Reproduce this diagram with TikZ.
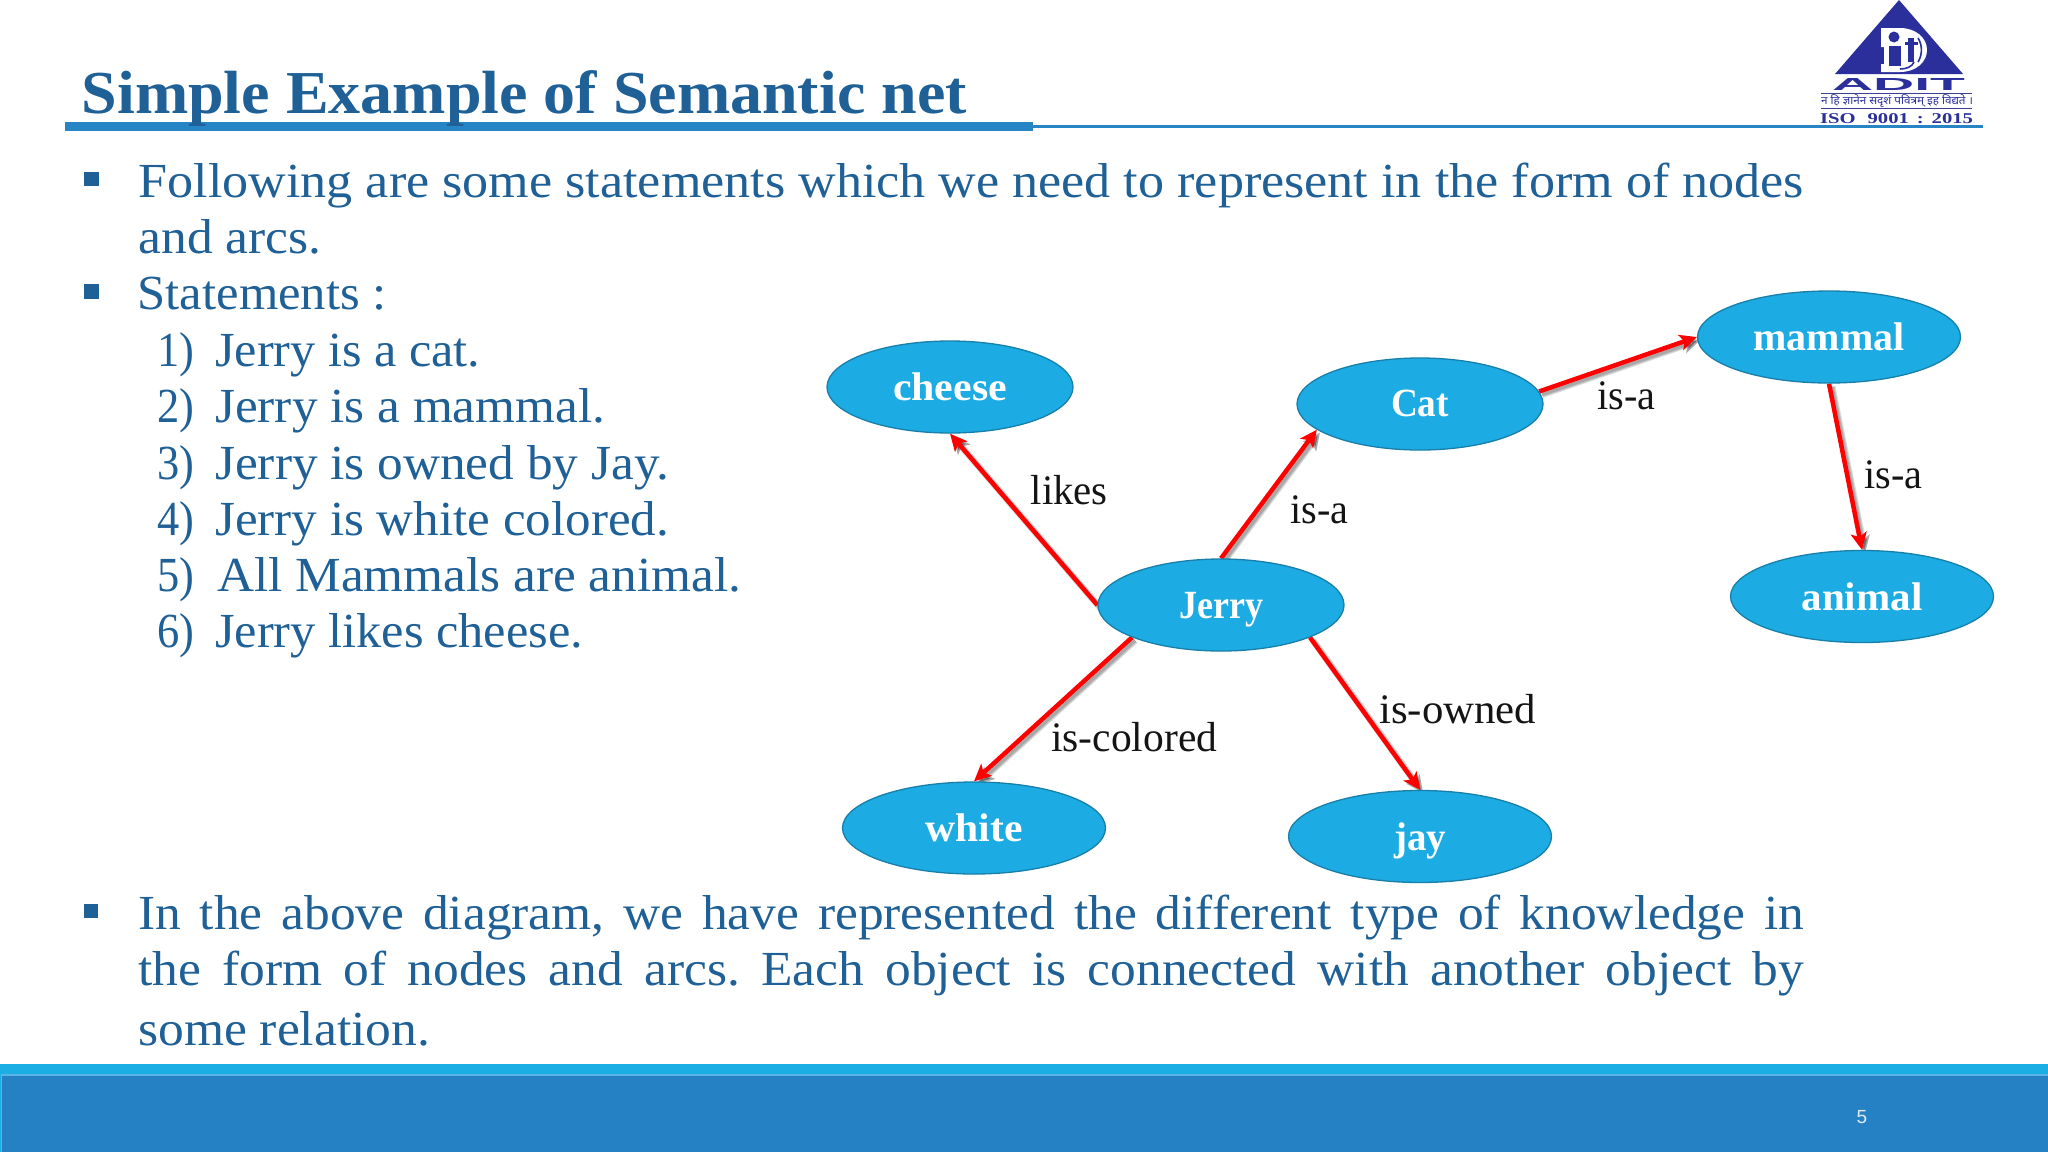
\documentclass[tikz,border=0pt]{standalone}
\usepackage{fontspec}
\usepackage{graphicx}
\usetikzlibrary{shapes.geometric,arrows.meta,backgrounds}
\setmainfont{Liberation Serif}
\setsansfont{Liberation Sans}
\newfontfamily\wideserif[FakeStretch=1.05]{Liberation Serif}
\newfontfamily\devafont[Script=Devanagari]{Noto Sans}
\definecolor{inkblue}{HTML}{1F6096}
\definecolor{rulecol}{HTML}{2784C5}
\definecolor{bandlight}{HTML}{1BAEE5}
\definecolor{banddark}{HTML}{2581C4}
\definecolor{bandedge}{HTML}{5AB4E6}
\definecolor{nodefill}{HTML}{1CACE3}
\definecolor{nodeline}{HTML}{177FA9}
\definecolor{logoblue}{HTML}{2B2F9B}
\newcommand{\fitw}[2]{\resizebox{#1pt}{\height}{#2}}
\frenchspacing
\tikzset{
  bodyline/.style={anchor=base west,inner sep=0pt,text=inkblue,font=\fontsize{49}{52}\selectfont},
  edgelabel/.style={anchor=base west,inner sep=0pt,text=black!92,font=\fontsize{42}{44}\selectfont},
  concept/.style={ellipse,draw=nodeline,line width=1.3pt,fill=nodefill,text=white,inner sep=0pt,
    minimum width=246pt,minimum height=92pt,text height=31pt,text depth=5pt,
    font=\fontsize{40}{42}\selectfont\bfseries},
  wideconcept/.style={concept,minimum width=263pt},
  relation/.style={draw=red,line width=4.5pt,-{Stealth[length=17pt,width=16pt,inset=4pt]}},
  relshadow/.style={draw=black,opacity=.13,line width=#1,-{Stealth[length=17pt,width=16pt,inset=4pt]},
    transform canvas={shift={(3pt,-3pt)}}},
}
\begin{document}
\begin{tikzpicture}[x=1pt,y=-1pt]
\useasboundingbox (0,0) rectangle (2048,1152);
% footer band
\fill[bandlight] (0,1064) rectangle (2048,1152);
\fill[bandedge] (1,1074) rectangle (2048,1152);
\fill[banddark] (2,1076) rectangle (2048,1152);
\node[inner sep=0pt,text=white!85!banddark,font=\sffamily\fontsize{19}{20}\selectfont] (pagenum) at (1862,1117) {5};
% title and rule
\fill[rulecol] (65,122) rectangle (1033,131);
\fill[rulecol] (1033,125) rectangle (1983,128);
\node[anchor=base west,inner sep=0pt,text=inkblue,font=\fontsize{61}{64}\selectfont\bfseries] (title) at (81.5,113)
  {\fitw{885}{Simple Example of Semantic net}};
% bullets
\fill[inkblue] (84,172) rectangle (99,186);
\fill[inkblue] (84,284) rectangle (99,299);
\fill[inkblue] (84,904) rectangle (98,918);
% upper text
\node[bodyline] (l1) at (138.5,197) {\fitw{1665}{Following are some statements which we need to represent in the form of nodes}};
\node[bodyline] (l2) at (138.5,253) {\fitw{183}{and arcs.}};
\node[bodyline] (l3) at (137.5,309.5) {\fitw{249}{Statements :}};
\node[bodyline] (n1) at (157,366) {\fitw{37}{1)}};
\node[bodyline] (n2) at (157,422.5) {\fitw{37}{2)}};
\node[bodyline] (n3) at (157,479) {\fitw{37}{3)}};
\node[bodyline] (n4) at (157,535) {\fitw{37}{4)}};
\node[bodyline] (n5) at (157,591) {\fitw{37}{5)}};
\node[bodyline] (n6) at (157,647.5) {\fitw{37}{6)}};
\node[bodyline] (s1) at (215,366) {\fitw{265}{Jerry is a cat.}};
\node[bodyline] (s2) at (215,422.5) {\fitw{390}{Jerry is a mammal.}};
\node[bodyline] (s3) at (215,479) {\fitw{454}{Jerry is owned by Jay.}};
\node[bodyline] (s4) at (215,535) {\fitw{454}{Jerry is white colored.}};
\node[bodyline] (s5) at (217,591) {\fitw{524}{All Mammals are animal.}};
\node[bodyline] (s6) at (215,647.5) {\fitw{368}{Jerry likes cheese.}};
% lower text
\node[bodyline] (b1) at (138,929) {\wideserif\makebox[1666pt][s]{In the above diagram, we have represented the different type of knowledge in}};
\node[bodyline] (b2) at (138,985.5) {\wideserif\makebox[1666pt][s]{the form of nodes and arcs. Each object is connected with another object by}};
\node[bodyline] (b3) at (138,1045.5) {\fitw{292}{some relation.}};
% semantic net nodes
\node[concept] (cheese) at (950,387) {\fitw{114}{cheese}};
\node[concept] (jerry) at (1221,605) {\fitw{84}{Jerry}};
\node[concept,text height=30pt,text depth=6pt] (cat) at (1420,404) {\fitw{58}{Cat}};
\node[wideconcept] (mammal) at (1829,337) {\fitw{151}{mammal}};
\node[wideconcept,text height=32pt,text depth=4pt] (animal) at (1862,596.5) {\fitw{121}{animal}};
\node[wideconcept] (white) at (974,828) {\fitw{97}{white}};
\node[wideconcept,text height=32pt,text depth=4pt] (jay) at (1420,836.5) {\fitw{52}{jay}};
% connectors under the nodes
\begin{scope}[on background layer]
  \fill[white] (0,0) rectangle (2048,1152);
  \foreach \w in {3pt,5pt,7pt}{
    \draw[relshadow=\w] (jerry.west) -- (cheese.south);
    \draw[relshadow=\w] (jerry.north) -- (cat.194);
    \draw[relshadow=\w] (cat.6) -- (mammal.west);
    \draw[relshadow=\w] (mammal.south) -- (animal.north);
    \draw[relshadow=\w] (jerry.200) -- (white.north);
    \draw[relshadow=\w] (jerry.340) -- (jay.north);
  }
  \draw[relation] (jerry.west) -- (cheese.south);
  \draw[relation] (jerry.north) -- (cat.194);
  \draw[relation] (cat.6) -- (mammal.west);
  \draw[relation] (mammal.south) -- (animal.north);
  \draw[relation] (jerry.200) -- (white.north);
  \draw[relation] (jerry.340) -- (jay.north);
\end{scope}
% connector labels
\node[edgelabel] (likes) at (1030.5,504) {\fitw{77}{likes}};
\node[edgelabel] (isa1) at (1290,523) {\fitw{58}{is-a}};
\node[edgelabel] (isa2) at (1597,409) {\fitw{58}{is-a}};
\node[edgelabel] (isa3) at (1864,488) {\fitw{58}{is-a}};
\node[edgelabel] (iscol) at (1051,751) {\fitw{166}{is-colored}};
\node[edgelabel] (isown) at (1379,723.5) {\fitw{157}{is-owned}};
% logo
\fill[logoblue] (1899,0) -- (1963,74) -- (1835,74) -- cycle;
\fill[white] (1881,28) -- (1900,28) .. controls (1916,28) and (1927,38) .. (1927,50)
  .. controls (1927,62) and (1916,72) .. (1900,72) -- (1881,72) -- (1881,64) -- (1884,64) -- (1884,47) -- (1881,47) -- cycle;
\fill[logoblue] (1894,37) circle (5.5);
\fill[logoblue] (1889,46) rectangle (1901,66);
\fill[logoblue] (1908,38) rectangle (1914,62);
\fill[logoblue] (1905,42) rectangle (1918,45);
\draw[logoblue,line width=1.6pt] (1914,62) .. controls (1912,67) and (1906,69) .. (1900,69);
\draw[logoblue,line width=1.6pt] (1918,38) .. controls (1922,44) and (1923,54) .. (1918,62);
\node[anchor=base,inner sep=0pt,text=logoblue,font=\sffamily\bfseries\fontsize{14}{15}\selectfont] (logoname) at (1898.5,90)
  {\resizebox{133pt}{12pt}{ADIT}};
\fill[logoblue!80!gray] (1821,92.5) rectangle (1972,93.7);
\fill[logoblue!80!gray] (1821,107.5) rectangle (1972,108.7);
\node[anchor=base,inner sep=0pt,text=logoblue,font=\devafont\bfseries\fontsize{11}{12}\selectfont] (logomotto) at (1897,104)
  {\fitw{152}{न हि ज्ञानेन सदृशं पवित्रम् इह विद्यते ।}};
\node[anchor=base,inner sep=0pt,text=logoblue,font=\bfseries\fontsize{15}{18}\selectfont] (logoiso) at (1896.5,123)
  {\fitw{153}{ISO\hspace{5pt} 9001\hspace{2pt} :\hspace{2pt} 2015}};
\end{tikzpicture}
\end{document}
